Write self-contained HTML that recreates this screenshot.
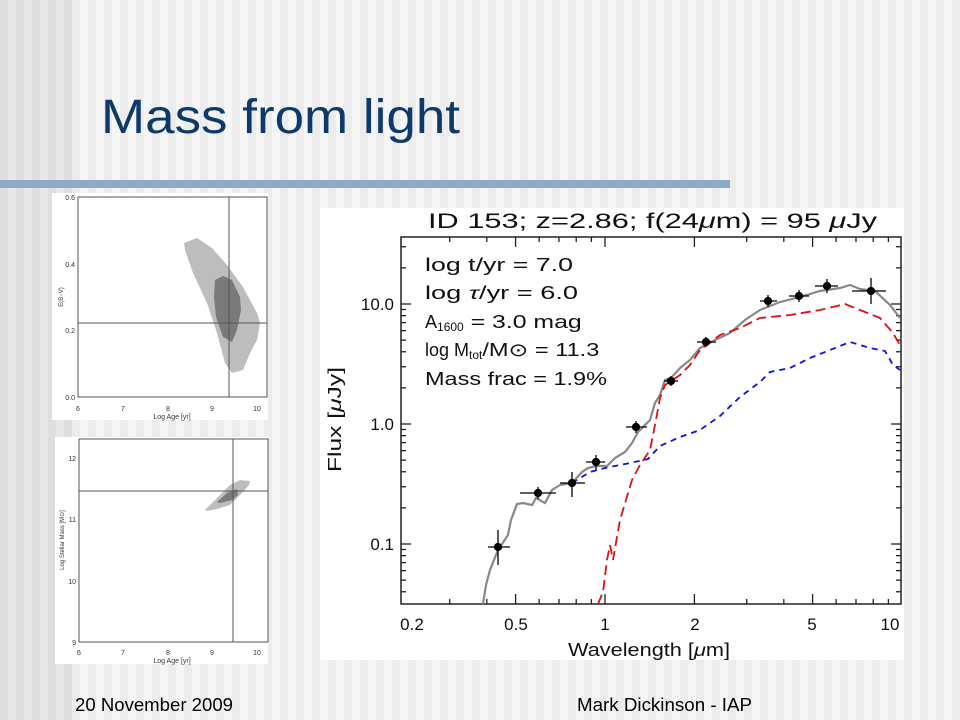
<!DOCTYPE html>
<html><head><meta charset="utf-8"><style>
html,body{margin:0;padding:0;width:960px;height:720px;overflow:hidden}
body{background:repeating-linear-gradient(90deg,#f6f6f6 0 8px,#ececec 8px 16px)}
#dark{position:absolute;left:0;top:0;width:72px;height:720px;background:repeating-linear-gradient(90deg,#dedede 0 8px,#e8e8e8 8px 16px)}
svg{position:absolute;left:0;top:0}
text{font-family:"Liberation Sans",sans-serif}
</style></head><body><div id="dark"></div>
<svg width="960" height="720" viewBox="0 0 960 720" xmlns="http://www.w3.org/2000/svg">
<text x="101" y="133" font-size="48" fill="#0b3a6b" textLength="359" lengthAdjust="spacingAndGlyphs">Mass from light</text>
<rect x="0" y="180" width="730" height="8" fill="#8eaac6"/>
<text x="75" y="711" font-size="18" textLength="158" lengthAdjust="spacingAndGlyphs">20 November 2009</text>
<text x="577" y="711" font-size="18" textLength="175" lengthAdjust="spacingAndGlyphs">Mark Dickinson - IAP</text>

<!-- panel 1 -->
<rect x="52" y="193" width="216" height="227" fill="#fff"/>
<polygon points="184,243 197,238 212,248 227,265 243,287 257,313 260,323 257,340 250,353 243,370 232,373 225,363 217,333 207,303 193,273 185,250" fill="#bdbdbd"/>
<polygon points="215,280 223,276 232,280 240,297 241,310 237,330 232,342 223,337 216,317 214,297" fill="#7a7a7a"/>
<rect x="78" y="197" width="189" height="200" fill="none" stroke="#555" stroke-width="1"/>
<line x1="229" y1="197" x2="229" y2="397" stroke="#555"/>
<line x1="78" y1="323" x2="267" y2="323" stroke="#555"/>
<g font-size="7" fill="#333" text-anchor="end"><text x="75" y="200">0.6</text><text x="75" y="267">0.4</text><text x="75" y="333">0.2</text><text x="75" y="400">0.0</text></g>
<g font-size="7" fill="#333" text-anchor="middle"><text x="78" y="411">6</text><text x="123" y="411">7</text><text x="168" y="411">8</text><text x="212" y="411">9</text><text x="257" y="411">10</text><text x="172" y="419">Log Age [yr]</text></g>
<text font-size="6" fill="#333" text-anchor="middle" transform="translate(63,297) rotate(-90)">E(B−V)</text>

<!-- panel 2 -->
<rect x="55" y="437" width="213" height="227" fill="#fff"/>
<polygon points="205,510 213,502 230,485 240,480 250,481 249,485 240,495 230,505 217,509 207,511" fill="#bdbdbd"/>
<polygon points="217,502 227,493 237,489 238,495 232,500 220,503" fill="#7a7a7a"/>
<rect x="79" y="439" width="189" height="203" fill="none" stroke="#555"/>
<line x1="233" y1="439" x2="233" y2="642" stroke="#555"/>
<line x1="79" y1="491" x2="268" y2="491" stroke="#555"/>
<g font-size="7" fill="#333" text-anchor="end"><text x="76" y="461">12</text><text x="76" y="522">11</text><text x="76" y="584">10</text><text x="76" y="645">9</text></g>
<g font-size="7" fill="#333" text-anchor="middle"><text x="79" y="655">6</text><text x="123" y="655">7</text><text x="168" y="655">8</text><text x="212" y="655">9</text><text x="257" y="655">10</text><text x="172" y="663">Log Age [yr]</text></g>
<text font-size="6" fill="#333" text-anchor="middle" transform="translate(64,540) rotate(-90)">Log Stellar Mass [M⊙]</text>

<!-- main -->
<rect x="320" y="208" width="584" height="452" fill="#fff"/>
<g id="ticks" stroke="#222" stroke-width="1.3"></g>
<rect x="401" y="237" width="500" height="367" fill="none" stroke="#222" stroke-width="1.5"/>
<polyline fill="none" stroke="#888" stroke-width="2.2" points="483,604 486,585 490,570 498,550 508,535 511,520 517,504 523,503 532,505 536,498 545,503 552,490 560,485 572,483 582,472 588,468 596,466 607,466 615,458 625,452 632,443 638,432 642,428 650,420 655,403 660,395 665,380 671,378 680,368 690,360 700,348 715,340 730,333 745,320 760,310 780,302 800,297 820,291 840,288 850,285 860,289 875,291 890,305 900,318"/>
<polyline fill="none" stroke="#1010e0" stroke-width="1.8" stroke-dasharray="6,5" points="572,483 590,472 605,468 630,463 648,459 660,446 680,437 700,430 720,416 740,397 760,382 770,372 790,368 810,358 830,350 850,342 870,348 885,351 893,365 900,370"/>
<polyline fill="none" stroke="#e01010" stroke-width="1.8" stroke-dasharray="10,5" points="598,604 603,592 607,560 610,545 613,560 620,520 632,480 640,465 650,450 655,425 660,398 665,385 680,375 690,365 700,350 720,335 740,328 760,318 790,315 820,310 845,304 860,310 880,318 893,333 900,345"/>
<g stroke="#000" stroke-width="1.3" fill="#000" id="pts"></g>
<g font-size="18" fill="#111" xml:space="preserve">
<text x="428" y="228" font-size="21" textLength="449" lengthAdjust="spacingAndGlyphs">ID 153; z=2.86; f(24<tspan font-style="italic">μ</tspan>m) =  95 <tspan font-style="italic">μ</tspan>Jy</text>
<text x="425" y="271" textLength="148" lengthAdjust="spacingAndGlyphs">log t/yr =  7.0</text>
<text x="425" y="299" textLength="153" lengthAdjust="spacingAndGlyphs">log <tspan font-style="italic">τ</tspan>/yr =  6.0</text>
<text x="425" y="328">A<tspan font-size="12" dy="3">1600</tspan><tspan dy="-3" textLength="118" lengthAdjust="spacingAndGlyphs"> = 3.0 mag</tspan></text>
<text x="425" y="356">log M<tspan font-size="12" dy="3">tot</tspan><tspan dy="-3" textLength="117" lengthAdjust="spacingAndGlyphs">/M⊙ = 11.3</tspan></text>
<text x="425" y="385" textLength="182" lengthAdjust="spacingAndGlyphs">Mass frac =  1.9%</text>
</g>
<g font-size="17" fill="#111" text-anchor="end"><text x="394" y="310">10.0</text><text x="394" y="430">1.0</text><text x="394" y="550">0.1</text></g>
<g font-size="17" fill="#111" text-anchor="middle"><text x="412" y="630">0.2</text><text x="516" y="630">0.5</text><text x="605" y="630">1</text><text x="695" y="630">2</text><text x="812" y="630">5</text><text x="890" y="630">10</text></g>
<text x="568" y="656" font-size="18" fill="#111" textLength="162" lengthAdjust="spacingAndGlyphs">Wavelength [<tspan font-style="italic">μ</tspan>m]</text>
<text font-size="18" fill="#111" transform="translate(341,472) rotate(-90)" textLength="105" lengthAdjust="spacingAndGlyphs">Flux [<tspan font-style="italic">μ</tspan>Jy]</text>
</svg>
<script>
var ns="http://www.w3.org/2000/svg",g=document.getElementById("ticks");
function L(a,b,c,d){var l=document.createElementNS(ns,"line");l.setAttribute("x1",a);l.setAttribute("y1",b);l.setAttribute("x2",c);l.setAttribute("y2",d);g.appendChild(l);}
for(var e=-2;e<=1;e++)for(var m=1;m<10;m++){var y=544-120*(Math.log10(m)+e+1);if(y<237||y>604)continue;var len=m==1?10:5;L(401,y,401+len,y);L(901,y,901-len,y);}
[0.2,0.3,0.4,0.5,0.6,0.7,0.8,0.9,1,2,3,4,5,6,7,8,9,10].forEach(function(v){var x=605+297*Math.log10(v);if(x<401||x>901)return;var len=[0.2,0.5,1,2,5,10].indexOf(v)>=0?10:5;L(x,604,x,604-len);L(x,237,x,237+len);});
var p=document.getElementById("pts");
[[498,547,488,510,530,565],[538,493,520,556,487,499],[572,483,560,585,472,497],[596,462,586,605,455,470],[636,427,626,647,421,433],[671,381,664,678,376,386],[706,342,697,716,337,347],[768,301,760,777,295,307],[799,296,789,809,290,302],[827,286,815,838,279,293],[871,291,852,886,278,304]].forEach(function(d){
var a=document.createElementNS(ns,"line");a.setAttribute("x1",d[2]);a.setAttribute("x2",d[3]);a.setAttribute("y1",d[1]);a.setAttribute("y2",d[1]);p.appendChild(a);
var b=document.createElementNS(ns,"line");b.setAttribute("x1",d[0]);b.setAttribute("x2",d[0]);b.setAttribute("y1",d[4]);b.setAttribute("y2",d[5]);p.appendChild(b);
var c=document.createElementNS(ns,"circle");c.setAttribute("cx",d[0]);c.setAttribute("cy",d[1]);c.setAttribute("r",3.5);p.appendChild(c);});
</script>
</body></html>
